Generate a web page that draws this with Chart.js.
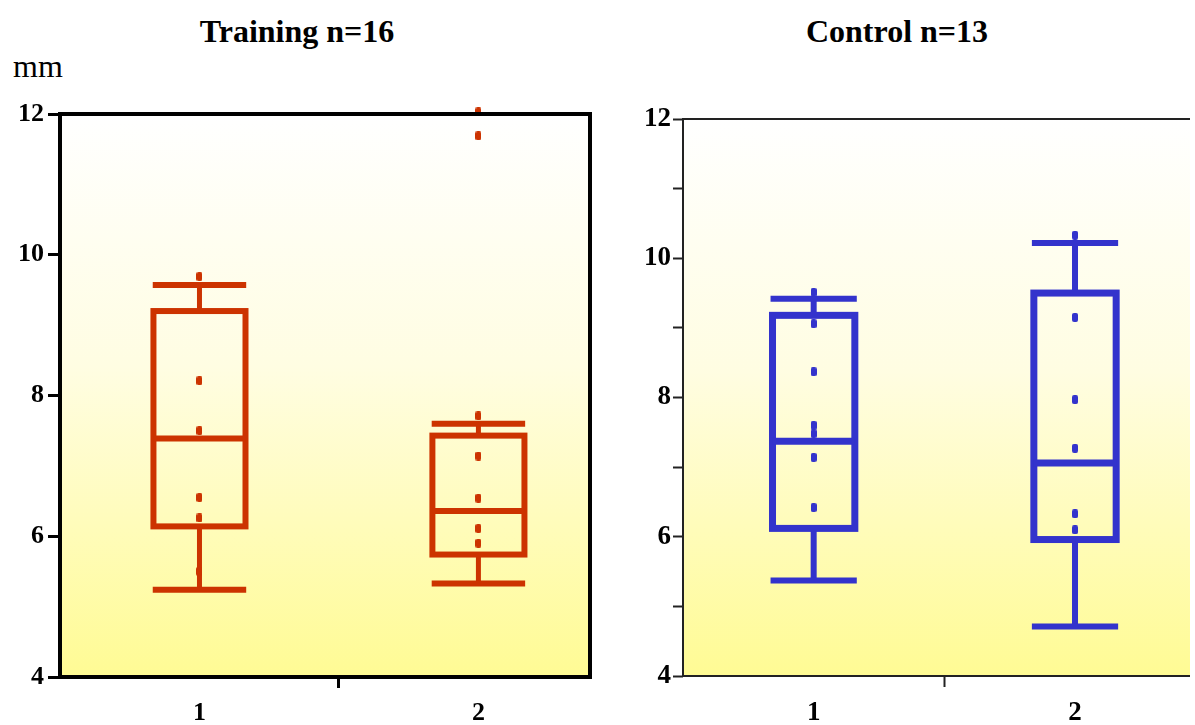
<!DOCTYPE html>
<html>
<head>
<meta charset="utf-8">
<script src="https://cdn.jsdelivr.net/npm/chart.js@4.4.1/dist/chart.umd.min.js"></script>
<style>
  html, body { margin: 0; padding: 0; background: #fff; width: 1195px; height: 725px; overflow: hidden; }
  canvas { position: absolute; top: 0; }
  #trainChart { left: 0; }
  #ctrlChart { left: 600px; }
  .title { position: absolute; top: 13px; font: bold 32px "Liberation Serif", serif; transform: translateX(-50%); white-space: nowrap; color: #000; }
  #unit { position: absolute; left: 13px; top: 48px; font: 32px "Liberation Serif", serif; color: #000; }
</style>
</head>
<body>
<div class="title" style="left:297px">Training n=16</div>
<div class="title" style="left:897px">Control n=13</div>
<div id="unit">mm</div>
<canvas id="trainChart" width="600" height="725"></canvas>
<canvas id="ctrlChart" width="595" height="725"></canvas>
<script>
const categories = [1, 2];

// Training group
const trainLow = [5.24, 5.33];
const trainQ1 = [6.14, 5.74];
const trainMedian = [7.39, 6.36];
const trainQ3 = [9.2, 7.43];
const trainHigh = [9.57, 7.6];
const trainPoints1 = [9.69, 8.21, 7.5, 6.55, 6.26, 5.5];
const trainPoints2 = [12.03, 11.69, 7.71, 7.14, 6.54, 6.11, 5.9];

// Control group
const ctrlLow = [5.37, 4.71];
const ctrlQ1 = [6.12, 5.96];
const ctrlMedian = [7.37, 7.06];
const ctrlQ3 = [9.18, 9.5];
const ctrlHigh = [9.42, 10.22];
const ctrlPoints1 = [9.51, 9.06, 8.37, 7.6, 7.48, 7.14, 6.42];
const ctrlPoints2 = [10.33, 9.15, 7.97, 7.27, 6.33, 6.1];

const trainYTicks = [4, 6, 8, 10, 12];
const ctrlYTicks = [4, 5, 6, 7, 8, 9, 10, 11, 12];
const xTicks = [1, 1.5, 2];

const RED = "#cc3300";
const BLUE = "#3333cc";
const FONT = "'Liberation Serif', 'Times New Roman', serif";

function dotImage(color) {
  const c = document.createElement("canvas");
  c.width = 6; c.height = 9;
  const g = c.getContext("2d");
  g.fillStyle = color;
  g.beginPath();
  g.roundRect(0, 0, 6, 9, 2);
  g.fill();
  return c;
}

const bgPlugin = {
  id: "bg",
  beforeDraw(chart) {
    const { ctx, chartArea: a } = chart;
    const grad = ctx.createLinearGradient(0, a.top, 0, a.bottom);
    grad.addColorStop(0, "#ffffff");
    grad.addColorStop(0.45, "#fffde2");
    grad.addColorStop(1, "#fffb94");
    ctx.save();
    ctx.fillStyle = grad;
    ctx.fillRect(a.left, a.top, a.right - a.left, a.bottom - a.top);
    ctx.restore();
  }
};

const boxPlugin = {
  id: "boxes",
  beforeDatasetsDraw(chart, args, o) {
    const { ctx, scales: { x, y } } = chart;
    const px = v => x.getPixelForValue(v);
    const py = v => y.getPixelForValue(v);
    ctx.save();
    ctx.strokeStyle = o.color;
    ctx.lineCap = "butt";
    o.cats.forEach((c, i) => {
      const cx = px(c);
      const bl = px(c - o.boxW / 2), br = px(c + o.boxW / 2);
      const cl = px(c - o.capW / 2), cr = px(c + o.capW / 2);
      ctx.lineWidth = o.stemLW;
      ctx.beginPath();
      ctx.moveTo(cx, py(o.q3[i])); ctx.lineTo(cx, py(o.high[i]));
      ctx.moveTo(cx, py(o.q1[i])); ctx.lineTo(cx, py(o.low[i]));
      ctx.stroke();
      ctx.lineWidth = o.capLW;
      ctx.beginPath();
      ctx.moveTo(cl, py(o.high[i])); ctx.lineTo(cr, py(o.high[i]));
      ctx.moveTo(cl, py(o.low[i])); ctx.lineTo(cr, py(o.low[i]));
      ctx.stroke();
      ctx.lineWidth = o.boxLW;
      ctx.strokeRect(bl, py(o.q3[i]), br - bl, py(o.q1[i]) - py(o.q3[i]));
      ctx.beginPath();
      ctx.moveTo(bl, py(o.median[i])); ctx.lineTo(br, py(o.median[i]));
      ctx.stroke();
    });
    ctx.restore();
  }
};

const framePlugin = {
  id: "frame",
  afterDraw(chart, args, o) {
    const { ctx, chartArea: a } = chart;
    ctx.save();
    ctx.strokeStyle = o.color;
    ctx.lineWidth = o.width;
    ctx.beginPath();
    if (o.closed) {
      ctx.rect(a.left, a.top, a.right - a.left, a.bottom - a.top);
    } else {
      ctx.moveTo(a.right, a.top);
      ctx.lineTo(a.left, a.top);
      ctx.lineTo(a.left, a.bottom);
      ctx.lineTo(a.right, a.bottom);
    }
    ctx.stroke();
    ctx.restore();
  }
};

function makeChart(id, cfg) {
  const dot = dotImage(cfg.color);
  const tickFont = { family: FONT, size: cfg.fontSize, weight: "bold" };
  return new Chart(document.getElementById(id), {
    type: "scatter",
    data: {
      datasets: [
        { data: cfg.points1.map(v => ({ x: categories[0], y: v })) },
        { data: cfg.points2.map(v => ({ x: categories[1], y: v })) },
      ].map(d => Object.assign(d, { pointStyle: dot, pointRadius: 4, clip: false, backgroundColor: cfg.color, borderColor: cfg.color }))
    },
    options: {
      responsive: false,
      animation: false,
      events: [],
      layout: { padding: cfg.padding },
      plugins: {
        legend: { display: false },
        tooltip: { enabled: false },
        boxes: {
          color: cfg.color, cats: categories,
          low: cfg.low, q1: cfg.q1, median: cfg.median, q3: cfg.q3, high: cfg.high,
          boxW: cfg.boxW, capW: cfg.capW, boxLW: cfg.boxLW, capLW: cfg.capLW, stemLW: cfg.stemLW
        },
        frame: { color: cfg.frameColor, width: cfg.frameWidth, closed: cfg.closed }
      },
      scales: {
        x: {
          type: "linear", min: 0.5, max: cfg.xMax,
          afterBuildTicks: s => { s.ticks = xTicks.map(v => ({ value: v })); },
          afterFit: s => { s.height = cfg.xHeight; },
          border: { display: false },
          grid: {
            drawOnChartArea: false, tickLength: 11, tickWidth: cfg.tickWidth,
            tickColor: c => (c.tick && c.tick.value === 1.5) ? cfg.frameColor : "rgba(0,0,0,0)"
          },
          ticks: {
            autoSkip: false, maxRotation: 0, padding: 10, color: "#000", font: tickFont,
            callback: v => (v === 1.5 ? "" : String(v))
          }
        },
        y: {
          min: 4, max: 12,
          afterBuildTicks: s => { s.ticks = cfg.yTicks.map(v => ({ value: v })); },
          afterFit: s => { s.width = cfg.yWidth; },
          border: { display: false },
          grid: { drawOnChartArea: false, tickLength: cfg.yTickLen, tickWidth: cfg.tickWidth, tickColor: cfg.frameColor },
          ticks: {
            padding: cfg.yPad, color: "#000", font: tickFont,
            callback: v => (v % 2 === 0 ? String(v) : "")
          }
        }
      }
    },
    plugins: [bgPlugin, boxPlugin, framePlugin]
  });
}

makeChart("trainChart", {
  color: RED, points1: trainPoints1, points2: trainPoints2,
  low: trainLow, q1: trainQ1, median: trainMedian, q3: trainQ3, high: trainHigh,
  boxW: 0.33, capW: 0.335, boxLW: 6, capLW: 6, stemLW: 5,
  padding: { top: 114, right: 10, bottom: 0, left: 0 },
  xMax: 2.4, xHeight: 48, yWidth: 60, yTicks: trainYTicks, yTickLen: 12, yPad: 4,
  fontSize: 26, frameColor: "#000", frameWidth: 4, closed: true, tickWidth: 3
});

makeChart("ctrlChart", {
  color: BLUE, points1: ctrlPoints1, points2: ctrlPoints2,
  low: ctrlLow, q1: ctrlQ1, median: ctrlMedian, q3: ctrlQ3, high: ctrlHigh,
  boxW: 0.315, capW: 0.33, boxLW: 7, capLW: 6, stemLW: 6,
  padding: { top: 119, right: 0, bottom: 0, left: 0 },
  xMax: 2.44, xHeight: 49, yWidth: 83, yTicks: ctrlYTicks, yTickLen: 10, yPad: 2,
  fontSize: 27, frameColor: "#222", frameWidth: 2, closed: false, tickWidth: 2
});
</script>
</body>
</html>
